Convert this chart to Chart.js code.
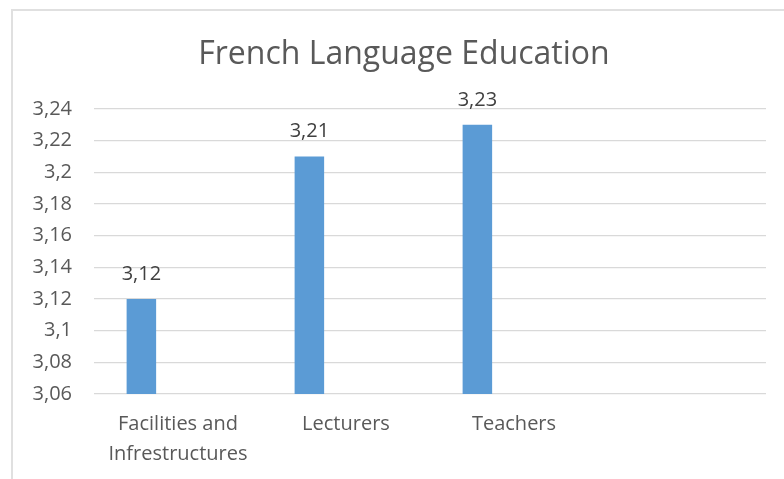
<!DOCTYPE html>
<html>
<head>
<meta charset="utf-8">
<script src="https://cdn.jsdelivr.net/npm/chart.js@4.4.0/dist/chart.umd.min.js"></script>
<style>
  html, body { margin: 0; padding: 0; background: #fff; overflow: hidden; }
  #wrap { position: relative; width: 784px; height: 479px; overflow: hidden; }
  #frame {
    position: absolute; left: 11px; top: 9px; width: 800px; height: 500px;
    border-top: 2px solid #e0e0e0; border-left: 2px solid #e0e0e0;
  }
  canvas { position: absolute; left: 0; top: 0; }
</style>
</head>
<body>
<div id="wrap">
  <div id="frame"></div>
  <canvas id="grafica" width="808" height="479"></canvas>
</div>
<script>
// datos
const categorias = [["Facilities and", "Infrestructures"], "Lecturers", "Teachers", ""];
const valores = [3.12, 3.21, 3.23, null];
// series vacias que en el original desplazan las barras a la izquierda
const serieVacia1 = [null, null, null, null];
const serieVacia2 = [null, null, null, null];
const ejeMin = 3.06;
const ejeMax = 3.24;
const ejePaso = 0.02;

const fuente = "'Open Sans', sans-serif";

function formatoComa(v) {
    return String(Number(v.toFixed(2))).replace(".", ",");
}

const etiquetasDatos = {
    id: "etiquetasDatos",
    afterDatasetsDraw(chart) {
        const ctx = chart.ctx;
        const meta = chart.getDatasetMeta(0);
        ctx.save();
        ctx.font = "20px " + fuente;
        ctx.fillStyle = "#404040";
        ctx.textAlign = "center";
        ctx.textBaseline = "middle";
        meta.data.forEach((barra, i) => {
            const v = valores[i];
            if (v === null) return;
            ctx.fillText(formatoComa(v), barra.x, barra.y - 25);
        });
        ctx.restore();
    }
};

const ctx = document.getElementById("grafica").getContext("2d");

new Chart(ctx, {
    type: "bar",
    data: {
        labels: categorias,
        datasets: [
            { data: valores, backgroundColor: "#5b9bd5", yAxisID: "y" },
            { data: serieVacia1, backgroundColor: "#ed7d31", yAxisID: "y" },
            { data: serieVacia2, backgroundColor: "#a5a5a5", yAxisID: "y" }
        ]
    },
    options: {
        responsive: false,
        animation: false,
        categoryPercentage: 0.654,
        barPercentage: 0.806,
        layout: { padding: { left: 0, right: 0, top: 0, bottom: 0 } },
        plugins: {
            legend: { display: false },
            tooltip: { enabled: false },
            title: {
                display: true,
                text: "French Language Education",
                color: "#595959",
                font: { family: fuente, size: 32, weight: "normal", lineHeight: 1.2 },
                padding: { top: 36, bottom: 34.6 }
            }
        },
        scales: {
            x: {
                grid: { display: false, drawTicks: false },
                border: { display: false },
                ticks: {
                    color: "#595959",
                    font: { family: fuente, size: 20, lineHeight: "30px" },
                    padding: 15,
                    maxRotation: 0,
                    autoSkip: false
                },
                afterFit(scale) { scale.height = 85; }
            },
            y: {
                min: ejeMin,
                max: ejeMax,
                grid: { color: "#d9d9d9", lineWidth: 1.3, drawTicks: false },
                border: { display: false },
                ticks: {
                    stepSize: ejePaso,
                    color: "#595959",
                    font: { family: fuente, size: 20 },
                    padding: 22,
                    callback: (v) => formatoComa(v)
                },
                afterFit(scale) { scale.width = 94; }
            },
            // eje vacio a la derecha, solo reserva el margen
            y2: {
                position: "right",
                min: ejeMin,
                max: ejeMax,
                grid: { display: false, drawTicks: false },
                border: { display: false },
                ticks: { display: false },
                afterFit(scale) { scale.width = 42; }
            }
        }
    },
    plugins: [etiquetasDatos]
});
</script>
</body>
</html>
